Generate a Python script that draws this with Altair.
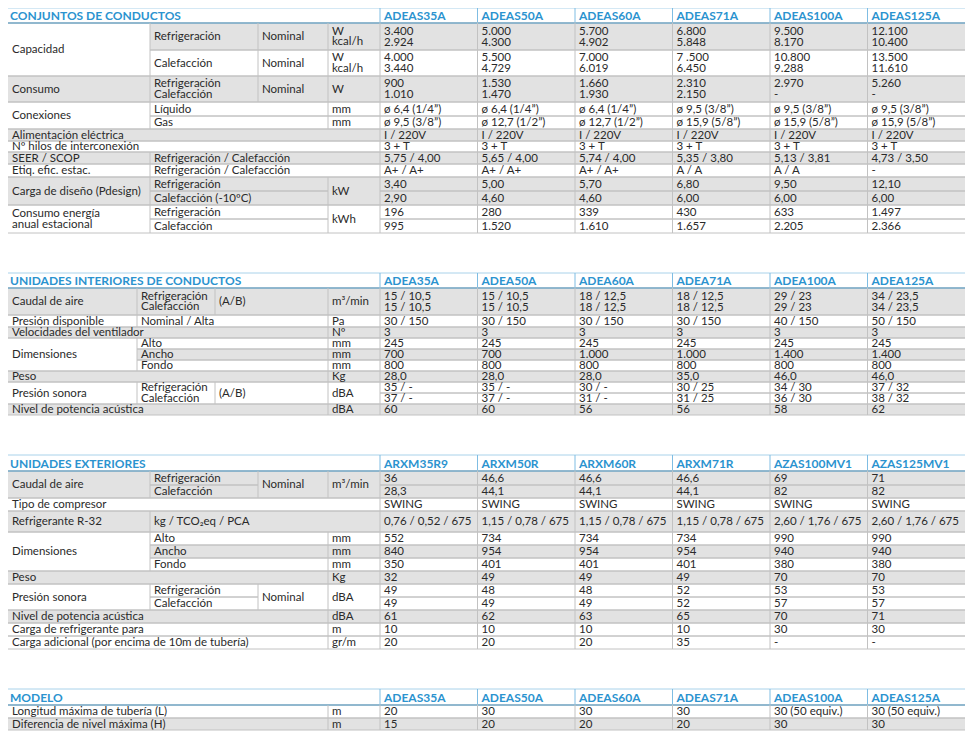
import altair as alt
import pandas as pd

# ------------------------------------------------------------------ data
titles = ["CONJUNTOS DE CONDUCTOS", "UNIDADES INTERIORES DE CONDUCTOS",
          "UNIDADES EXTERIORES", "MODELO"]
models_1 = ["ADEAS35A", "ADEAS50A", "ADEAS60A", "ADEAS71A", "ADEAS100A", "ADEAS125A"]
models_2 = ["ADEA35A", "ADEA50A", "ADEA60A", "ADEA71A", "ADEA100A", "ADEA125A"]
models_3 = ["ARXM35R9", "ARXM50R", "ARXM60R", "ARXM71R", "AZAS100MV1", "AZAS125MV1"]
models_4 = ["ADEAS35A", "ADEAS50A", "ADEAS60A", "ADEAS71A", "ADEAS100A", "ADEAS125A"]

# section 1
cap_ref_w = ["3.400", "5.000", "5.700", "6.800", "9.500", "12.100"]
cap_ref_kcal = ["2.924", "4.300", "4.902", "5.848", "8.170", "10.400"]
cap_cal_w = ["4.000", "5.500", "7.000", "7 .500", "10.800", "13.500"]
cap_cal_kcal = ["3.440", "4.729", "6.019", "6.450", "9.288", "11.610"]
cons_ref = ["900", "1.530", "1.660", "2.310", "2.970", "5.260"]
cons_cal = ["1.010", "1.470", "1.930", "2.150", "-", "-"]
liquido = ["ø 6,4 (1/4”)", "ø 6,4 (1/4”)", "ø 6,4 (1/4”)", "ø 9,5 (3/8”)", "ø 9,5 (3/8”)", "ø 9,5 (3/8”)"]
gas = ["ø 9,5 (3/8”)", "ø 12,7 (1/2”)", "ø 12,7 (1/2”)", "ø 15,9 (5/8”)", "ø 15,9 (5/8”)", "ø 15,9 (5/8”)"]
alimentacion = ["I / 220V", "I / 220V", "I / 220V", "I / 220V", "I / 220V", "I / 220V"]
hilos = ["3 + T", "3 + T", "3 + T", "3 + T", "3 + T", "3 + T"]
seer_scop = ["5,75 / 4,00", "5,65 / 4,00", "5,74 / 4,00", "5,35 / 3,80", "5,13 / 3,81", "4,73 / 3,50"]
etiqueta = ["A+ / A+", "A+ / A+", "A+ / A+", "A / A", "A / A", "-"]
pdesign_ref = ["3,40", "5,00", "5,70", "6,80", "9,50", "12,10"]
pdesign_cal = ["2,90", "4,60", "4,60", "6,00", "6,00", "6,00"]
energia_ref = ["196", "280", "339", "430", "633", "1.497"]
energia_cal = ["995", "1.520", "1.610", "1.657", "2.205", "2.366"]

# section 2
caudal2_ref = ["15 / 10,5", "15 / 10,5", "18 / 12,5", "18 / 12,5", "29 / 23", "34 / 23,5"]
caudal2_cal = ["15 / 10,5", "15 / 10,5", "18 / 12,5", "18 / 12,5", "29 / 23", "34 / 23,5"]
presion_disp = ["30 / 150", "30 / 150", "30 / 150", "30 / 150", "40 / 150", "50 / 150"]
velocidades = ["3", "3", "3", "3", "3", "3"]
alto2 = ["245", "245", "245", "245", "245", "245"]
ancho2 = ["700", "700", "1.000", "1.000", "1.400", "1.400"]
fondo2 = ["800", "800", "800", "800", "800", "800"]
peso2 = ["28,0", "28,0", "28,0", "35,0", "46,0", "46,0"]
sonora2_ref = ["35 / -", "35 / -", "30 / -", "30 / 25", "34 / 30", "37 / 32"]
sonora2_cal = ["37 / -", "37 / -", "31 / -", "31 / 25", "36 / 30", "38 / 32"]
potencia2 = ["60", "60", "56", "56", "58", "62"]

# section 3
caudal3_ref = ["36", "46,6", "46,6", "46,6", "69", "71"]
caudal3_cal = ["28,3", "44,1", "44,1", "44,1", "82", "82"]
compresor = ["SWING", "SWING", "SWING", "SWING", "SWING", "SWING"]
refrigerante = ["0,76 / 0,52 / 675", "1,15 / 0,78 / 675", "1,15 / 0,78 / 675",
                "1,15 / 0,78 / 675", "2,60 / 1,76 / 675", "2,60 / 1,76 / 675"]
alto3 = ["552", "734", "734", "734", "990", "990"]
ancho3 = ["840", "954", "954", "954", "940", "940"]
fondo3 = ["350", "401", "401", "401", "380", "380"]
peso3 = ["32", "49", "49", "49", "70", "70"]
sonora3_ref = ["49", "48", "48", "52", "53", "53"]
sonora3_cal = ["49", "49", "49", "52", "57", "57"]
potencia3 = ["61", "62", "63", "65", "70", "71"]
carga3 = ["10", "10", "10", "10", "30", "30"]
adicional3 = ["20", "20", "20", "35", "-", "-"]

# section 4
longitud = ["20", "30", "30", "30", "30 (50 equiv.)", "30 (50 equiv.)"]
diferencia = ["15", "20", "20", "20", "30", "30"]

# ------------------------------------------------------------------ layout
A, B, C, D, E = 8, 150, 258, 328, 380
B2, C2 = 137, 215
COLS = [380, 477.5, 575, 672.5, 770, 867.5]
RIGHT = 965
GRID = "#c2c2c2"
BLUE = "#2b93cf"

sections = [
    dict(title=titles[0], models=models_1, top=8, bot=23,
         cells=[
             (["Capacidad"], A, B, 23, 76, False),
             (["Refrigeración"], B, C, 23, 50, True), (["Nominal"], C, D, 23, 50, True),
             (["W", "kcal/h"], D, E, 23, 50, True),
             (["Calefacción"], B, C, 50, 76, False), (["Nominal"], C, D, 50, 76, False),
             (["W", "kcal/h"], D, E, 50, 76, False),
             (["Consumo"], A, B, 76, 102, True), (["Refrigeración", "Calefacción"], B, C, 76, 102, True),
             (["Nominal"], C, D, 76, 102, True), (["W"], D, E, 76, 102, True),
             (["Conexiones"], A, B, 102, 129, False),
             (["Líquido"], B, D, 102, 116, False), (["mm"], D, E, 102, 116, False),
             (["Gas"], B, D, 116, 129, False), (["mm"], D, E, 116, 129, False),
             (["Alimentación eléctrica"], A, E, 129, 141, True),
             (["Nº hilos de interconexión"], A, E, 141, 152, False),
             (["SEER / SCOP"], A, B, 152, 164, True), (["Refrigeración / Calefacción"], B, E, 152, 164, True),
             (["Etiq. efic. estac."], A, B, 164, 177, False), (["Refrigeración / Calefacción"], B, E, 164, 177, False),
             (["Carga de diseño (Pdesign)"], A, B, 177, 205, True),
             (["Refrigeración"], B, D, 177, 191, True), (["Calefacción (-10ºC)"], B, D, 191, 205, True),
             (["kW"], D, E, 177, 205, True),
             (["Consumo energía", "anual estacional"], A, B, 205, 233, False),
             (["Refrigeración"], B, D, 205, 219, False), (["Calefacción"], B, D, 219, 233, False),
             (["kWh"], D, E, 205, 233, False),
         ],
         rows=[
             (23, 50, True, [cap_ref_w, cap_ref_kcal]),
             (50, 76, False, [cap_cal_w, cap_cal_kcal]),
             (76, 102, True, [cons_ref, cons_cal]),
             (102, 116, False, [liquido]),
             (116, 129, False, [gas]),
             (129, 141, True, [alimentacion]),
             (141, 152, False, [hilos]),
             (152, 164, True, [seer_scop]),
             (164, 177, False, [etiqueta]),
             (177, 191, True, [pdesign_ref]),
             (191, 205, True, [pdesign_cal]),
             (205, 219, False, [energia_ref]),
             (219, 233, False, [energia_cal]),
         ]),
    dict(title=titles[1], models=models_2, top=273, bot=288,
         cells=[
             (["Caudal de aire"], A, B2, 288, 315, True),
             (["Refrigeración", "Calefacción"], B2, C2, 288, 315, True),
             (["(A/B)"], C2, D, 288, 315, True), (["m³/min"], D, E, 288, 315, True),
             (["Presión disponible"], A, B2, 315, 327, False),
             (["Nominal / Alta"], B2, D, 315, 327, False), (["Pa"], D, E, 315, 327, False),
             (["Velocidades del ventilador"], A, D, 327, 338, True), (["Nº"], D, E, 327, 338, True),
             (["Dimensiones"], A, B2, 338, 371, False),
             (["Alto"], B2, D, 338, 349, False), (["mm"], D, E, 338, 349, False),
             (["Ancho"], B2, D, 349, 360, True), (["mm"], D, E, 349, 360, True),
             (["Fondo"], B2, D, 360, 371, False), (["mm"], D, E, 360, 371, False),
             (["Peso"], A, D, 371, 382, True), (["Kg"], D, E, 371, 382, True),
             (["Presión sonora"], A, B2, 382, 404, False),
             (["Refrigeración", "Calefacción"], B2, C2, 382, 404, False),
             (["(A/B)"], C2, D, 382, 404, False), (["dBA"], D, E, 382, 404, False),
             (["Nivel de potencia acústica"], A, D, 404, 415, True), (["dBA"], D, E, 404, 415, True),
         ],
         rows=[
             (288, 315, True, [caudal2_ref, caudal2_cal]),
             (315, 327, False, [presion_disp]),
             (327, 338, True, [velocidades]),
             (338, 349, False, [alto2]),
             (349, 360, True, [ancho2]),
             (360, 371, False, [fondo2]),
             (371, 382, True, [peso2]),
             (382, 393, False, [sonora2_ref]),
             (393, 404, False, [sonora2_cal]),
             (404, 415, True, [potencia2]),
         ]),
    dict(title=titles[2], models=models_3, top=455, bot=471,
         cells=[
             (["Caudal de aire"], A, B, 471, 498, True),
             (["Refrigeración"], B, C, 471, 485, True), (["Calefacción"], B, C, 485, 498, True),
             (["Nominal"], C, D, 471, 498, True), (["m³/min"], D, E, 471, 498, True),
             (["Tipo de compresor"], A, E, 498, 511, False),
             (["Refrigerante R-32"], A, B, 511, 532, True), (["kg / TCO₂eq / PCA"], B, E, 511, 532, True),
             (["Dimensiones"], A, B, 532, 571, False),
             (["Alto"], B, D, 532, 545, False), (["mm"], D, E, 532, 545, False),
             (["Ancho"], B, D, 545, 558, True), (["mm"], D, E, 545, 558, True),
             (["Fondo"], B, D, 558, 571, False), (["mm"], D, E, 558, 571, False),
             (["Peso"], A, D, 571, 584, True), (["Kg"], D, E, 571, 584, True),
             (["Presión sonora"], A, B, 584, 610, False),
             (["Refrigeración"], B, C, 584, 597, False), (["Calefacción"], B, C, 597, 610, False),
             (["Nominal"], C, D, 584, 610, False), (["dBA"], D, E, 584, 610, False),
             (["Nivel de potencia acústica"], A, D, 610, 623, True), (["dBA"], D, E, 610, 623, True),
             (["Carga de refrigerante para"], A, D, 623, 636, False), (["m"], D, E, 623, 636, False),
             (["Carga adicional (por encima de 10m de tubería)"], A, D, 636, 649, False),
             (["gr/m"], D, E, 636, 649, False),
         ],
         rows=[
             (471, 485, True, [caudal3_ref]),
             (485, 498, True, [caudal3_cal]),
             (498, 511, False, [compresor]),
             (511, 532, True, [refrigerante]),
             (532, 545, False, [alto3]),
             (545, 558, True, [ancho3]),
             (558, 571, False, [fondo3]),
             (571, 584, True, [peso3]),
             (584, 597, False, [sonora3_ref]),
             (597, 610, False, [sonora3_cal]),
             (610, 623, True, [potencia3]),
             (623, 636, False, [carga3]),
             (636, 649, False, [adicional3]),
         ]),
    dict(title=titles[3], models=models_4, top=689, bot=705,
         cells=[
             (["Longitud máxima de tubería (L)"], A, D, 705, 718, False), (["m"], D, E, 705, 718, False),
             (["Diferencia de nivel máxima (H)"], A, D, 718, 730, True), (["m"], D, E, 718, 730, True),
         ],
         rows=[
             (705, 718, False, [longitud]),
             (718, 730, True, [diferencia]),
         ]),
]

rects, rules, texts, heads = [], [], [], []
LH = 10.5
for s in sections:
    # header
    rules.append(dict(x=A, x2=RIGHT, y=s["top"], y2=s["top"], c="#a9d2ea", w=1))
    rules.append(dict(x=A, x2=RIGHT, y=s["bot"], y2=s["bot"], c=BLUE, w=1.6))
    yc = (s["top"] + s["bot"]) / 2 + 0.5
    heads.append(dict(x=A + 2, y=yc, t=s["title"]))
    for cx, m in zip(COLS, s["models"]):
        rules.append(dict(x=cx, x2=cx, y=s["top"], y2=s["bot"], c="#7fbde3", w=1))
        heads.append(dict(x=cx + 4, y=yc, t=m))
    # left cells
    for lines, x0, x1, y0, y1, grey in s["cells"]:
        if grey:
            rects.append(dict(x=x0, x2=x1, y=y0, y2=y1))
        rules.append(dict(x=x0, x2=x1, y=y0, y2=y0, c=GRID, w=1))
        rules.append(dict(x=x0, x2=x1, y=y1, y2=y1, c=GRID, w=1))
        if x0 > A:
            rules.append(dict(x=x0, x2=x0, y=y0, y2=y1, c=GRID, w=1))
        n = len(lines)
        for i, t in enumerate(lines):
            texts.append(dict(x=x0 + 4, y=(y0 + y1) / 2 + 0.5 + (i - (n - 1) / 2) * LH, t=t))
    # data rows
    for y0, y1, grey, vals in s["rows"]:
        if grey:
            rects.append(dict(x=COLS[0], x2=RIGHT, y=y0, y2=y1))
        rules.append(dict(x=COLS[0], x2=RIGHT, y=y0, y2=y0, c=GRID, w=1))
        rules.append(dict(x=COLS[0], x2=RIGHT, y=y1, y2=y1, c=GRID, w=1))
        n = len(vals)
        for cx in COLS:
            rules.append(dict(x=cx, x2=cx, y=y0, y2=y1, c=GRID, w=1))
        for i, series in enumerate(vals):
            yy = (y0 + y1) / 2 + 0.5 + (i - (n - 1) / 2) * 11
            for cx, v in zip(COLS, series):
                texts.append(dict(x=cx + 4, y=yy, t=v))

rect_df = pd.DataFrame(rects)
rule_df = pd.DataFrame(rules)
text_df = pd.DataFrame(texts)
head_df = pd.DataFrame(heads)

xs = alt.Scale(domain=[8, 969], nice=False, zero=False)
ys = alt.Scale(domain=[8, 736], nice=False, zero=False, reverse=True)
X = alt.X("x:Q", scale=xs, axis=None)
Y = alt.Y("y:Q", scale=ys, axis=None)

fill_layer = alt.Chart(rect_df).mark_rect(color="#e2e2e2").encode(
    x=X, x2="x2:Q", y=Y, y2="y2:Q")
rule_layer = alt.Chart(rule_df).mark_rule().encode(
    x=X, x2="x2:Q", y=Y, y2="y2:Q",
    color=alt.Color("c:N", scale=None),
    strokeWidth=alt.StrokeWidth("w:Q", scale=None))
text_layer = alt.Chart(text_df).mark_text(
    align="left", baseline="middle", font="Lato", fontSize=11.5, color="#2a2a2a").encode(
    x=X, y=Y, text="t:N")
head_layer = alt.Chart(head_df).mark_text(
    align="left", baseline="middle", font="Lato", fontSize=12, fontWeight="bold", color=BLUE).encode(
    x=X, y=Y, text="t:N")

chart = alt.layer(fill_layer, rule_layer, text_layer, head_layer).properties(
    width=961, height=728, padding=0,
    autosize=alt.AutoSizeParams(type="none"),
    background="white",
).configure_view(stroke=None)

chart.save("out.html", embed_options={"renderer": "svg", "actions": False})
